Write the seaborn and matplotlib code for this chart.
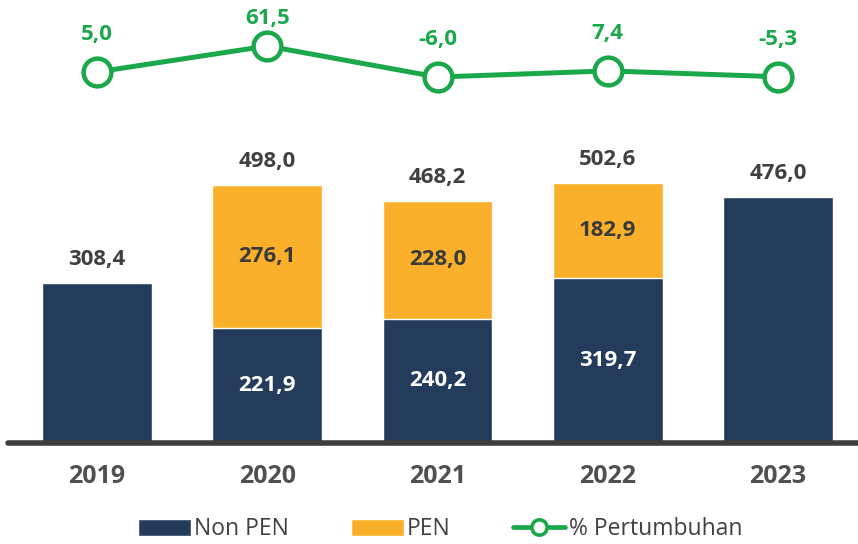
import numpy as np
import pandas as pd
import seaborn as sns
import matplotlib.pyplot as plt
from matplotlib.patches import Patch
from matplotlib.lines import Line2D

# data
years = ["2019", "2020", "2021", "2022", "2023"]
non_pen = [308.4, 221.9, 240.2, 319.7, 476.0]
pen = [0.0, 276.1, 228.0, 182.9, 0.0]
growth = [5.0, 61.5, -6.0, 7.4, -5.3]

NAVY = "#243c5c"
ORANGE = "#fbb02b"
GREEN = "#1aa84b"
DARK = "#404040"

def fmt(v):
    return f"{v:.1f}".replace(".", ",")

sns.set_theme(style="white")
plt.rcParams["font.family"] = ["Open Sans", "DejaVu Sans"]

df = pd.DataFrame({"year": years, "non_pen": non_pen, "pen": pen})
df["total"] = df["non_pen"] + df["pen"]

XLIM = (-0.523, 4.47)
fig = plt.figure(figsize=(8.58, 5.44), dpi=100)
ax = fig.add_axes([0.0093, 0.1857, 0.9907, 0.568])
ax_top = fig.add_axes([0.0093, 0.7978, 0.9907, 0.1654])

# stacked bars: total in orange, non PEN drawn over it
sns.barplot(data=df, x="year", y="total", color=ORANGE, width=0.646,
            saturation=1, ax=ax)
sns.barplot(data=df, x="year", y="non_pen", color=NAVY, width=0.646,
            saturation=1, ax=ax)

ax.set_xlim(*XLIM)
ax.set_ylim(0, 597)
ax.set_xlabel("")
ax.set_ylabel("")
ax.set_yticks([])
for s in ["top", "right", "left"]:
    ax.spines[s].set_visible(False)
ax.spines["bottom"].set_color("#3d3d3d")
ax.spines["bottom"].set_linewidth(4)
ax.spines["bottom"].set_capstyle("round")
ax.tick_params(axis="x", length=0, pad=15, labelsize=18, labelcolor="#505050")
for lab in ax.get_xticklabels():
    lab.set_fontweight("bold")

for i, row in df.iterrows():
    ax.annotate(fmt(row["total"]), (i, row["total"]), xytext=(0, 17),
                textcoords="offset points", ha="center", va="center",
                fontsize=16, fontweight="bold", color=DARK)
    if row["pen"] > 0:
        ax.text(i, row["non_pen"] / 2, fmt(row["non_pen"]), ha="center",
                va="center", fontsize=16, fontweight="bold", color="white")
        ax.text(i, row["non_pen"] + row["pen"] / 2, fmt(row["pen"]),
                ha="center", va="center", fontsize=16, fontweight="bold",
                color="#3a3a3a")

# growth line
xpos = np.arange(len(years))
sns.lineplot(x=xpos, y=growth, color=GREEN, linewidth=3.6, marker="o",
             markersize=20, markerfacecolor="white", markeredgecolor=GREEN,
             markeredgewidth=3.2, ax=ax_top)
ax_top.set_xlim(*XLIM)
ax_top.set_ylim(-77.6, 118)
ax_top.axis("off")
for x, g in zip(xpos, growth):
    off = 20 if g == max(growth) else 27
    ax_top.annotate(fmt(g), (x, g), xytext=(0, off), textcoords="offset points",
                    ha="center", va="center", fontsize=16, fontweight="bold",
                    color=GREEN)

handles = [
    Patch(facecolor=NAVY, label="Non PEN"),
    Patch(facecolor=ORANGE, label="PEN"),
    Line2D([0], [0], color=GREEN, linewidth=3.4, marker="o", markersize=11,
           markerfacecolor="white", markeredgecolor=GREEN, markeredgewidth=2.6,
           label="% Pertumbuhan"),
]
fig.legend(handles=handles, loc="center", bbox_to_anchor=(0.513, 0.027), ncol=3,
           frameon=False, fontsize=16.5, handlelength=2.3, handleheight=0.75,
           handletextpad=0.15, columnspacing=2.7, labelcolor="#404040")

fig.savefig("out.png", dpi=100)
